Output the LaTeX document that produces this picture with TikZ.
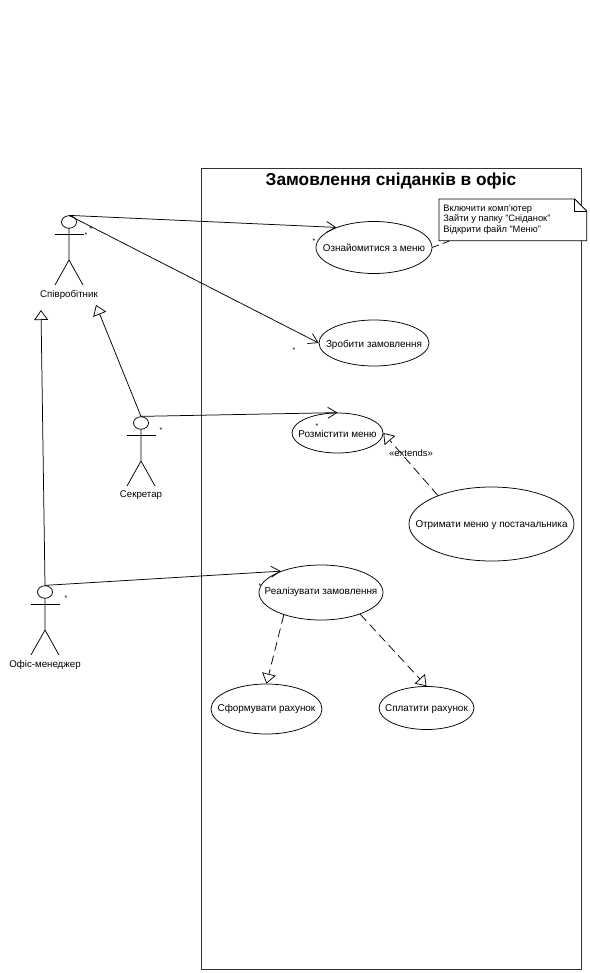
\documentclass[tikz,border=0pt]{standalone}
\usepackage{fontspec}
\setmainfont{Liberation Sans}
\usepackage{tikz}
\usetikzlibrary{arrows.meta,calc,shapes.geometric}
\newcommand{\lblsize}{\fontsize{9.9}{11}\selectfont}

\begin{document}
\begin{tikzpicture}[x=1pt,y=-1pt,line width=0.75pt,font=\lblsize,
  usecase/.style 2 args={ellipse,draw,inner sep=0pt,label={[inner sep=0pt,yshift=#2]center:#1}},
  head/.style={ellipse,draw,minimum width=15pt,minimum height=12.5pt,inner sep=0pt},
  assoc/.style={-{Straight Barb[length=9pt,width=11pt,line width=0.75pt]}},
  inherit/.style={-{Triangle[open,fill=white,length=10pt,width=14pt,line width=0.75pt]}},
  depend/.style={inherit,dashed,dash pattern=on 9pt off 5pt},
  mult/.style={inner sep=0pt,font=\fontsize{7}{7}\selectfont}]
\useasboundingbox (0,0) rectangle (589,973);
\fill[white] (0,0) rectangle (589,973);
\draw[black!80] (201,168) rectangle (581,969);
\node (title) at (391,181) {\fontsize{17.3}{19}\selectfont\bfseries Замовлення сніданків в офіс};
% actors
\foreach \nm/\x/\y/\txt in {worker/69/222/Співробітник,secretary/141/423/Секретар,manager/45/592/Офіс-менеджер}{
  \node[head] (\nm) at (\x,\y) {};
  \draw (\x,\y+6.25) -- (\x,\y+38) -- (\x-14,\y+63);
  \draw (\x,\y+38) -- (\x+14,\y+63);
  \draw (\x-14.5,\y+12.5) -- (\x+14.5,\y+12.5);
  \node[font=\fontsize{9.7}{11}\selectfont] (\nm label) at (\x,\y+72.5) {\txt};
}
% use cases
\node[usecase={Ознайомитися з меню}{0pt},minimum width=116pt,minimum height=52pt] (viewmenu) at (374,247.5) {};
\node[usecase={Зробити замовлення}{-2pt},minimum width=110pt,minimum height=46pt] (order) at (374,343) {};
\node[usecase={Розмістити меню}{-1pt},minimum width=91pt,minimum height=40pt] (postmenu) at (337.5,433) {};
\node[usecase={Отримати меню у постачальника}{-1pt},minimum width=165pt,minimum height=74pt] (getmenu) at (491.5,524) {};
\node[usecase={Реалізувати замовлення}{1pt},minimum width=124pt,minimum height=55pt] (fulfil) at (321,592.5) {};
\node[usecase={Сформувати рахунок}{0pt},minimum width=111pt,minimum height=50pt] (bill) at (266.5,709) {};
\node[usecase={Сплатити рахунок}{-1pt},minimum width=95pt,minimum height=43pt] (pay) at (426.5,708) {};
% note
\node[anchor=north west,minimum width=147pt,minimum height=41pt,inner sep=0pt] (note) at (439,199) {};
\draw[fill=white] (note.north west) -- ($(note.north east)+(-12,0)$) -- ($(note.north east)+(0,12)$)
  -- (note.south east) -- (note.south west) -- cycle;
\draw ($(note.north east)+(-12,0)$) |- ($(note.north east)+(0,12)$);
\node[anchor=west,align=left,inner sep=0pt,font=\fontsize{9.3}{10.5}\selectfont] (notetext) at (443,219.5) {Включити комп'ютер\\Зайти у папку "Сніданок"\\Відкрити файл "Меню"};
\coordinate (notefoot) at (452,240);
\draw[dashed,dash pattern=on 7pt off 4pt] (viewmenu.east) -- (notefoot);
% connectors
\draw[assoc] (worker.north) -- (viewmenu.152);
\draw[assoc] (worker.north) -- (order.west);
\draw[assoc] (secretary.north) -- (postmenu.north);
\draw[assoc] (manager.north) -- (fulfil.152);
\coordinate (workertip) at (96,305);
\coordinate (managertip) at (41,310);
\draw[inherit] (secretary.north) -- (workertip);
\draw[inherit] (manager.north) -- (managertip);
\draw[depend] (getmenu.152) -- (postmenu.east);
\draw[depend] (fulfil.211) -- (bill.north);
\draw[depend] (fulfil.331) -- (pay.north);
\node[font=\fontsize{9.5}{11}\selectfont] (extends) at (411,453) {«extends»};
% multiplicities
\foreach \x/\y [count=\i] in {90.7/229,86/235,314/241,294/350,161/430,317/426,66/598,260/586}{
  \node[mult] (star\i) at (\x,\y) {*};
}
\end{tikzpicture}
\end{document}
